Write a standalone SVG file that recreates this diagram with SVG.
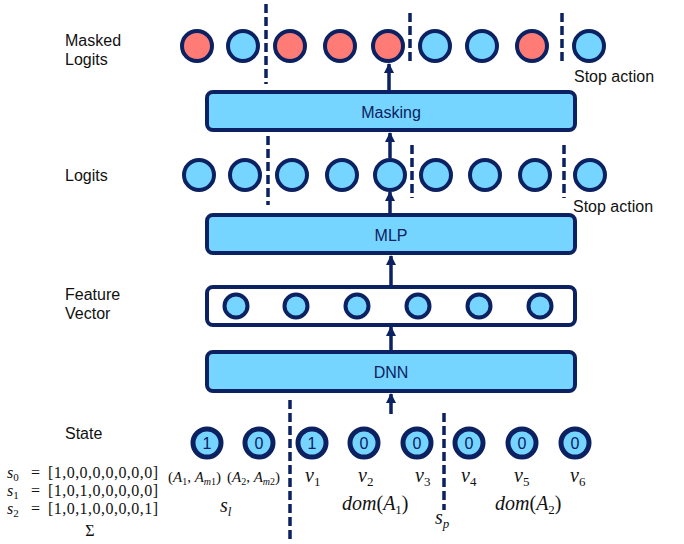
<svg xmlns="http://www.w3.org/2000/svg" width="684" height="544" viewBox="0 0 684 544">
  <defs>
    <marker id="arrowHead" viewBox="0 0 10 10" refX="9" refY="5" markerWidth="3" markerHeight="3" markerUnits="strokeWidth" orient="auto">
      <path d="M0,0 L10,5 L0,10 Z" fill="#0B2161"/>
    </marker>
    <style>
      .lbl { font-family: "Liberation Sans", Arial, sans-serif; font-size: 16px; fill: #111; }
      .box { fill: #76D5FF; stroke: #0B2161; stroke-width: 4; }
      .boxw { fill: #FFFFFF; stroke: #0B2161; stroke-width: 4; }
      .btxt { font-family: "Liberation Sans", Arial, sans-serif; font-size: 16px; fill: #0B2161; text-anchor: middle; }
      .nb { fill: #76D5FF; stroke: #0B2161; stroke-width: 4; }
      .nr { fill: #FF7B76; stroke: #0B2161; stroke-width: 4; }
      .ns { fill: #76D5FF; stroke: #0B2161; stroke-width: 5; }
      .dig { font-family: "Liberation Sans", Arial, sans-serif; font-size: 16px; fill: #0B2161; text-anchor: middle; }
      .dash { stroke: #0B2161; stroke-width: 3.5; stroke-dasharray: 9 4; fill: none; }
      .arr { stroke: #0B2161; stroke-width: 3.5; fill: none; marker-end: url(#arrowHead); }
      .math { font-family: "Liberation Serif", "Times New Roman", serif; font-size: 20px; fill: #111; }
      .vec { font-size: 16px; }
      .mi { font-style: italic; }
    </style>
  </defs>

  <!-- row labels -->
  <g id="labels">
    <text class="lbl" x="65" y="46">Masked</text>
    <text class="lbl" x="65" y="65">Logits</text>
    <text class="lbl" x="65" y="181">Logits</text>
    <text class="lbl" x="65" y="300">Feature</text>
    <text class="lbl" x="65" y="319">Vector</text>
    <text class="lbl" x="65" y="439">State</text>
    <text class="lbl" x="574" y="82">Stop action</text>
    <text class="lbl" x="573" y="212">Stop action</text>
  </g>

  <!-- masked logits -->
  <g id="masked-logits">
    <circle class="nr" cx="197" cy="46" r="15"/>
    <circle class="nb" cx="243" cy="46" r="15"/>
    <circle class="nr" cx="290" cy="46" r="15"/>
    <circle class="nr" cx="340" cy="46" r="15"/>
    <circle class="nr" cx="388" cy="46" r="15"/>
    <circle class="nb" cx="435" cy="46" r="15"/>
    <circle class="nb" cx="482" cy="46" r="15"/>
    <circle class="nr" cx="532" cy="46" r="15"/>
    <circle class="nb" cx="589" cy="46" r="15"/>
  </g>

  <g id="masking">
    <rect class="box" x="207" y="92" width="368" height="38" rx="6"/>
    <text class="btxt" x="391" y="118">Masking</text>
  </g>

  <!-- logits -->
  <g id="logits">
    <circle class="nb" cx="199" cy="175" r="15"/>
    <circle class="nb" cx="245" cy="175" r="15"/>
    <circle class="nb" cx="292" cy="175" r="15"/>
    <circle class="nb" cx="342" cy="175" r="15"/>
    <circle class="nb" cx="390" cy="175" r="15"/>
    <circle class="nb" cx="436" cy="175" r="15"/>
    <circle class="nb" cx="485" cy="175" r="15"/>
    <circle class="nb" cx="535" cy="175" r="15"/>
    <circle class="nb" cx="590" cy="175" r="15"/>
  </g>

  <g id="mlp">
    <rect class="box" x="207" y="215" width="368" height="38" rx="6"/>
    <text class="btxt" x="391" y="241">MLP</text>
  </g>

  <g id="feature-vector">
    <rect class="boxw" x="207" y="287" width="368" height="38" rx="6"/>
    <circle class="nb" cx="236" cy="306" r="11.5"/>
    <circle class="nb" cx="296" cy="306" r="11.5"/>
    <circle class="nb" cx="357" cy="306" r="11.5"/>
    <circle class="nb" cx="418" cy="306" r="11.5"/>
    <circle class="nb" cx="479" cy="306" r="11.5"/>
    <circle class="nb" cx="540" cy="306" r="11.5"/>
  </g>

  <g id="dnn">
    <rect class="box" x="207" y="352" width="368" height="39" rx="6"/>
    <text class="btxt" x="391" y="378">DNN</text>
  </g>

  <!-- state bits -->
  <g id="state">
    <circle class="ns" cx="207" cy="443" r="14"/>
    <text class="dig" x="207" y="449">1</text>
    <circle class="ns" cx="259" cy="443" r="14"/>
    <text class="dig" x="259" y="449">0</text>
    <circle class="ns" cx="312" cy="443" r="14"/>
    <text class="dig" x="312" y="449">1</text>
    <circle class="ns" cx="364" cy="443" r="14"/>
    <text class="dig" x="364" y="449">0</text>
    <circle class="ns" cx="417" cy="443" r="14"/>
    <text class="dig" x="417" y="449">0</text>
    <circle class="ns" cx="469" cy="443" r="14"/>
    <text class="dig" x="469" y="449">0</text>
    <circle class="ns" cx="522" cy="443" r="14"/>
    <text class="dig" x="522" y="449">0</text>
    <circle class="ns" cx="575" cy="443" r="14"/>
    <text class="dig" x="575" y="449">0</text>
  </g>

  <!-- connectors and separators -->
  <g id="connectors">
    <line class="arr" x1="389" y1="90" x2="389" y2="64"/>
    <line class="arr" x1="390" y1="158" x2="390" y2="133"/>
    <line class="arr" x1="390" y1="213" x2="390" y2="192"/>
    <line class="arr" x1="391" y1="285" x2="391" y2="256"/>
    <line class="arr" x1="391" y1="350" x2="391" y2="327"/>
    <line class="arr" x1="391" y1="414" x2="391" y2="394"/>

    <line class="dash" x1="266" y1="4" x2="266" y2="84"/>
    <line class="dash" x1="410" y1="13" x2="410" y2="65"/>
    <line class="dash" x1="562" y1="13" x2="562" y2="65"/>
    <line class="dash" x1="268" y1="136" x2="268" y2="205"/>
    <line class="dash" x1="412" y1="145" x2="412" y2="198"/>
    <line class="dash" x1="564" y1="145" x2="564" y2="198"/>
    <line class="dash" x1="290" y1="400" x2="290" y2="540"/>
    <line class="dash" x1="444" y1="413" x2="444" y2="510"/>
  </g>

  <!-- state encoding annotations -->
  <g id="annotations" class="math">
    <text x="7" y="478" class="vec"><tspan class="mi">s</tspan><tspan font-size="11" dy="3">0</tspan></text>
    <text x="31" y="478" class="vec">=</text>
    <text x="48" y="478" class="vec" textLength="110">[1,0,0,0,0,0,0,0]</text>
    <text x="7" y="496" class="vec"><tspan class="mi">s</tspan><tspan font-size="11" dy="3">1</tspan></text>
    <text x="31" y="496" class="vec">=</text>
    <text x="48" y="496" class="vec" textLength="110">[1,0,1,0,0,0,0,0]</text>
    <text x="7" y="514" class="vec"><tspan class="mi">s</tspan><tspan font-size="11" dy="3">2</tspan></text>
    <text x="31" y="514" class="vec">=</text>
    <text x="48" y="514" class="vec" textLength="110">[1,0,1,0,0,0,0,1]</text>
    <text x="90" y="536" text-anchor="middle" class="vec">Σ</text>

    <text x="168" y="482" font-size="15">(<tspan class="mi">A</tspan><tspan font-size="10" dy="3">1</tspan><tspan dy="-3">, </tspan><tspan class="mi">A</tspan><tspan class="mi" font-size="10" dy="3">m</tspan><tspan font-size="10">1</tspan><tspan dy="-3">)</tspan></text>
    <text x="227" y="482" font-size="15">(<tspan class="mi">A</tspan><tspan font-size="10" dy="3">2</tspan><tspan dy="-3">, </tspan><tspan class="mi">A</tspan><tspan class="mi" font-size="10" dy="3">m</tspan><tspan font-size="10">2</tspan><tspan dy="-3">)</tspan></text>
    <text x="220" y="512"><tspan class="mi">s</tspan><tspan class="mi" font-size="13" dy="4">l</tspan></text>

    <text x="305" y="482"><tspan class="mi">v</tspan><tspan font-size="13" dy="4">1</tspan></text>
    <text x="358" y="482"><tspan class="mi">v</tspan><tspan font-size="13" dy="4">2</tspan></text>
    <text x="415" y="482"><tspan class="mi">v</tspan><tspan font-size="13" dy="4">3</tspan></text>
    <text x="461" y="482"><tspan class="mi">v</tspan><tspan font-size="13" dy="4">4</tspan></text>
    <text x="514" y="482"><tspan class="mi">v</tspan><tspan font-size="13" dy="4">5</tspan></text>
    <text x="570" y="482"><tspan class="mi">v</tspan><tspan font-size="13" dy="4">6</tspan></text>

    <text x="342" y="510"><tspan class="mi">dom</tspan>(<tspan class="mi">A</tspan><tspan font-size="13" dy="4">1</tspan><tspan dy="-4">)</tspan></text>
    <text x="495" y="510"><tspan class="mi">dom</tspan>(<tspan class="mi">A</tspan><tspan font-size="13" dy="4">2</tspan><tspan dy="-4">)</tspan></text>
    <text x="435" y="524"><tspan class="mi">s</tspan><tspan class="mi" font-size="13" dy="4">p</tspan></text>
  </g>
</svg>
